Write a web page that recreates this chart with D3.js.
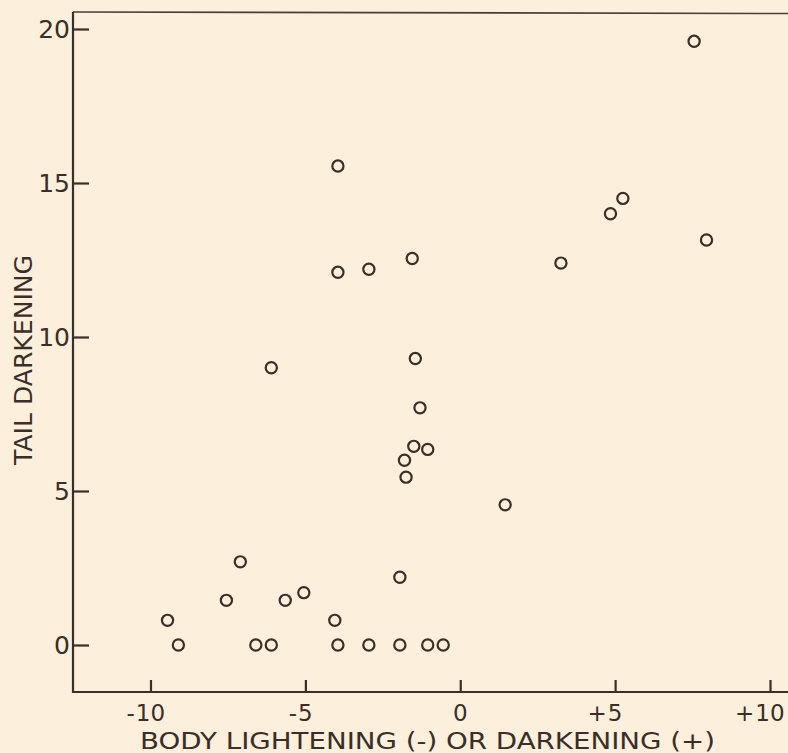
<!DOCTYPE html>
<html>
<head>
<meta charset="utf-8">
<script src="https://cdn.jsdelivr.net/npm/d3@7"></script>
<style>
  html, body { margin: 0; padding: 0; background: #fcf0dd; }
  svg { display: block; }
  text { font-family: "DejaVu Sans", "Lato", sans-serif; fill: #3b2d27; }
</style>
</head>
<body>
<svg id="chart" width="788" height="753"></svg>
<script>
// Body lightening (-) or darkening (+)
const bodyChange = [
  -9.45, -9.1, -7.55, -7.1, -6.6, -6.1, -6.1, -5.65, -5.05, -4.05,
  -3.95, -3.95, -3.95, -2.95, -2.95, -1.95, -1.95, -1.55, -1.45, -1.3,
  -1.5, -1.05, -1.8, -1.75, -1.05, -0.55, 1.45, 3.25, 4.85, 5.25,
  7.55, 7.95
];
// Tail darkening
const tailDarkening = [
  0.8, 0, 1.45, 2.7, 0, 0, 9.0, 1.45, 1.7, 0.8,
  0, 15.55, 12.1, 12.2, 0, 2.2, 0, 12.55, 9.3, 7.7,
  6.45, 6.35, 6.0, 5.45, 0, 0, 4.55, 12.4, 14.0, 14.5,
  19.6, 13.15
];
const xTicks = [-10, -5, 0, 5, 10];
const xTickLabels = ["-10", "-5", "0", "+5", "+10"];
const yTicks = [0, 5, 10, 15, 20];
const yTickLabels = ["0", "5", "10", "15", "20"];
const xTitle = "BODY LIGHTENING (-) OR DARKENING (+)";
const yTitle = "TAIL DARKENING";

const ink = "#3b2d27";
const svg = d3.select("#chart");

const x = d3.scaleLinear().domain([-10, 10]).range([150.5, 770]);
const y = d3.scaleLinear().domain([0, 20]).range([645, 29]);

const frameLeft = 73, frameBottom = 692, frameTop = 12, frameRight = 788;

// frame: top, left, bottom
svg.append("line").attr("x1", frameLeft).attr("x2", frameRight).attr("y1", frameTop).attr("y2", frameTop + 1.5)
  .attr("stroke", "#4a3d37").attr("stroke-width", 1.6);
svg.append("line").attr("x1", frameLeft).attr("x2", frameLeft).attr("y1", frameTop).attr("y2", frameBottom + 1)
  .attr("stroke", ink).attr("stroke-width", 2.2);
svg.append("line").attr("x1", frameLeft - 1).attr("x2", frameRight).attr("y1", frameBottom).attr("y2", frameBottom)
  .attr("stroke", ink).attr("stroke-width", 2.2);

// y axis ticks (inward)
const yAxis = d3.axisRight(y).tickValues(yTicks).tickSize(16).tickFormat("");
const gy = svg.append("g").attr("transform", `translate(${frameLeft},0)`).call(yAxis);
gy.select(".domain").remove();
gy.selectAll(".tick line").attr("stroke", ink).attr("stroke-width", 2.2);

// x axis ticks (upward)
const xAxis = d3.axisTop(x).tickValues(xTicks).tickSize(12).tickFormat("");
const gx = svg.append("g").attr("transform", `translate(0,${frameBottom})`).call(xAxis);
gx.select(".domain").remove();
gx.selectAll(".tick line").attr("stroke", ink).attr("stroke-width", 2.2);

// y tick labels
svg.append("g").selectAll("text").data(yTicks).join("text")
  .attr("x", 70).attr("y", d => y(d))
  .attr("dy", "0.36em")
  .attr("text-anchor", "end")
  .attr("font-size", 25)
  .text((d, i) => yTickLabels[i]);

// x tick labels: digits centered on the tick, sign hanging to the left
const xl = svg.append("g");
xTicks.forEach((d, i) => {
  const lab = xTickLabels[i];
  const sign = (lab[0] === "-" || lab[0] === "+") ? lab[0] : "";
  const digits = sign ? lab.slice(1) : lab;
  const t = xl.append("text").attr("x", x(d)).attr("y", 721)
    .attr("text-anchor", "middle").attr("font-size", 23).text(digits);
  if (sign) {
    const w = t.node().getComputedTextLength();
    xl.append("text").attr("x", x(d) - w / 2 - 1).attr("y", 721)
      .attr("text-anchor", "end").attr("font-size", 23).text(sign);
  }
});

// axis titles
svg.append("text")
  .attr("x", 140).attr("y", 749)
  .attr("font-size", 23)
  .attr("textLength", 575).attr("lengthAdjust", "spacingAndGlyphs")
  .text(xTitle);

svg.append("text")
  .attr("transform", "translate(32,465) rotate(-90)")
  .attr("font-size", 25)
  .attr("textLength", 210).attr("lengthAdjust", "spacingAndGlyphs")
  .text(yTitle);

// points
svg.append("g").selectAll("circle").data(bodyChange.map((v, i) => [v, tailDarkening[i]]))
  .join("circle")
  .attr("cx", d => x(d[0])).attr("cy", d => y(d[1]))
  .attr("r", 5.6)
  .attr("fill", "none")
  .attr("stroke", ink)
  .attr("stroke-width", 2.2);
</script>
</body>
</html>
